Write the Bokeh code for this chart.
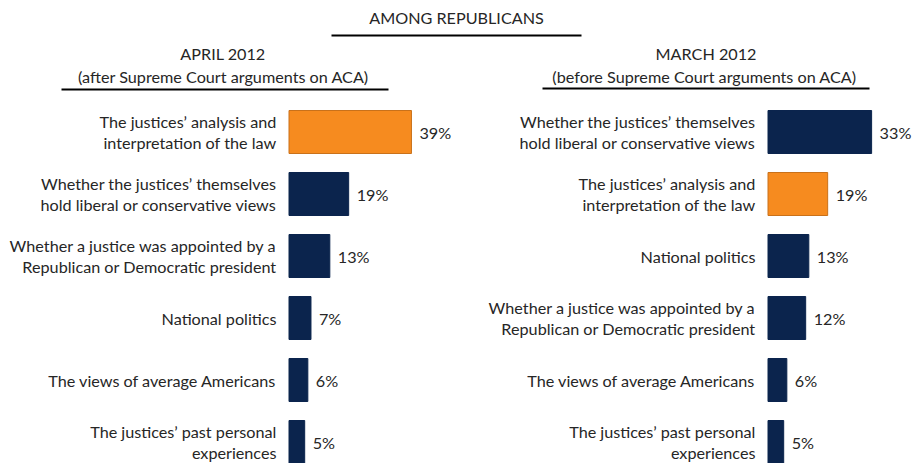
from bokeh.plotting import figure
from bokeh.models import Range1d, ColumnDataSource
from bokeh.core.properties import value
from bokeh.embed import file_html
from bokeh.resources import INLINE

# ---- data ----
title_main = "AMONG REPUBLICANS"
april_title = "APRIL 2012"
april_sub = "(after Supreme Court arguments on ACA)"
march_title = "MARCH 2012"
march_sub = "(before Supreme Court arguments on ACA)"

april_labels = [
    "The justices\u2019 analysis and\ninterpretation of the law",
    "Whether the justices\u2019 themselves\nhold liberal or conservative views",
    "Whether a justice was appointed by a\nRepublican or Democratic president",
    "National politics",
    "The views of average Americans",
    "The justices\u2019 past personal\nexperiences",
]
april_values = [39, 19, 13, 7, 6, 5]

march_labels = [
    "Whether the justices\u2019 themselves\nhold liberal or conservative views",
    "The justices\u2019 analysis and\ninterpretation of the law",
    "National politics",
    "Whether a justice was appointed by a\nRepublican or Democratic president",
    "The views of average Americans",
    "The justices\u2019 past personal\nexperiences",
]
march_values = [33, 19, 13, 12, 6, 5]

highlight = "The justices\u2019 analysis and\ninterpretation of the law"

# ---- style ----
NAVY = "#0B244D"
ORANGE = "#F68B1F"
ORANGE_EDGE = "#C9711A"
TEXT = "#262626"
FONT = "Lato"
FS = "16.2px"

K = 3.14          # px per percentage point
ROW = 62.0        # px per row
ROW0 = 131.5      # y of first row centre
W, H = 912, 463

p = figure(width=W, height=H, x_range=Range1d(0, W), y_range=Range1d(H, 0),
           x_axis_type=None, y_axis_type=None, output_backend="svg",
           toolbar_location=None, min_border=0)
p.grid.visible = False
p.outline_line_color = None
p.background_fill_color = "white"

p.extra_x_ranges = {
    "apr": Range1d(-288.5 / K, (W - 288.5) / K),
    "mar": Range1d(-767.5 / K, (W - 767.5) / K),
}
p.extra_y_ranges = {"rows": Range1d((H - ROW0) / ROW, -ROW0 / ROW)}


def panel(labels, values, rng):
    src = ColumnDataSource(dict(
        y=list(range(len(labels))),
        v=values,
        lab=labels,
        pct=[f"{v}%" for v in values],
        fill=[ORANGE if l == highlight else NAVY for l in labels],
        edge=[ORANGE_EDGE if l == highlight else NAVY for l in labels],
    ))
    p.hbar(y="y", left=0, right="v", height=43 / ROW, fill_color="fill", line_color="edge",
           line_width=1, source=src, x_range_name=rng, y_range_name="rows")
    p.text(x="v", y="y", text="pct", x_offset=8, text_align="left", text_baseline="middle",
           text_font=value(FONT), text_font_size=FS, text_color=TEXT, source=src,
           x_range_name=rng, y_range_name="rows")
    p.text(x=0, y="y", text="lab", x_offset=-12.5, text_align="right", text_baseline="middle",
           text_line_height=1.1, text_font=value(FONT), text_font_size=FS, text_color=TEXT,
           source=src, x_range_name=rng, y_range_name="rows")


panel(april_labels, april_values, "apr")
panel(march_labels, march_values, "mar")

# headers
p.text(x=[456, 222.5, 223, 705.5, 704], y=[17, 53, 76, 53, 76],
       text=[title_main, april_title, april_sub, march_title, march_sub],
       text_align="center", text_baseline="middle", text_font=value(FONT),
       text_font_size=FS, text_color=TEXT)
p.segment(x0=[331, 61, 542], x1=[581, 388, 869], y0=[35, 89, 88], y1=[35, 89, 88],
          line_color="black", line_width=2)

open("out.html", "w").write(file_html(p, INLINE))
